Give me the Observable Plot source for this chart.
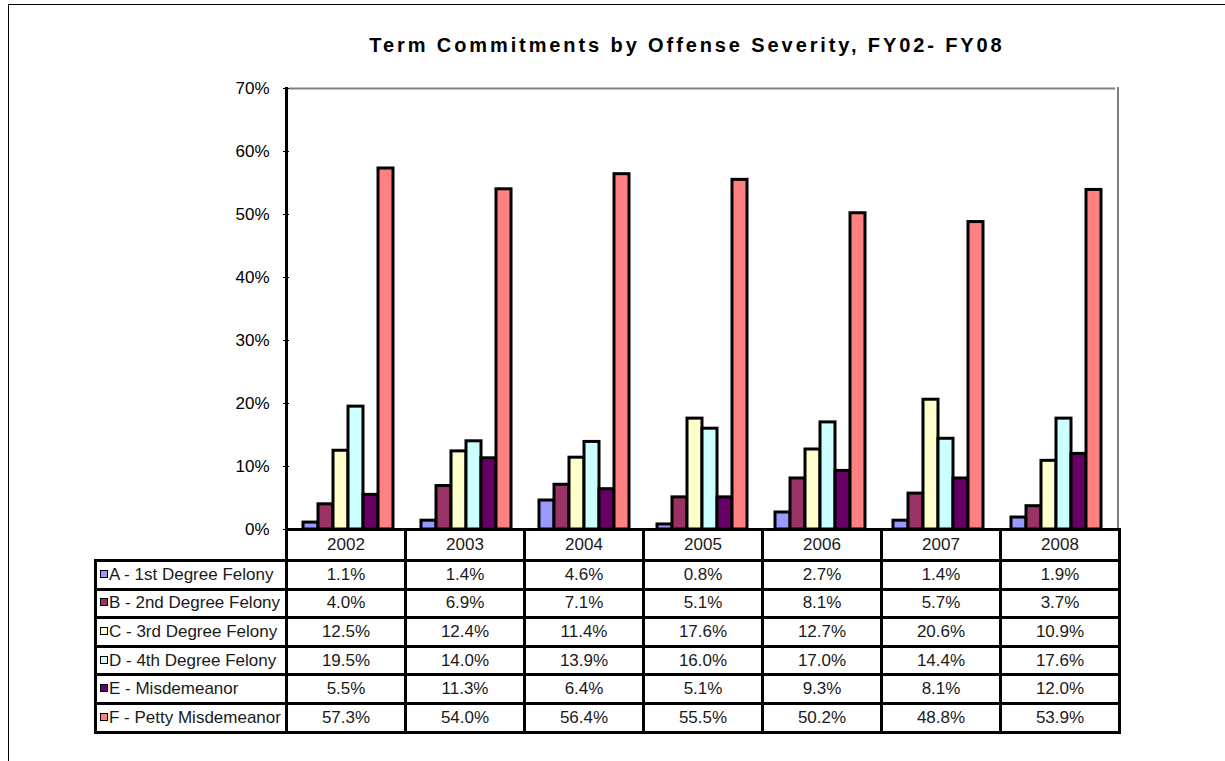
<!DOCTYPE html>
<html>
<head>
<meta charset="utf-8">
<script src="https://cdn.jsdelivr.net/npm/d3@7"></script>
<script src="https://cdn.jsdelivr.net/npm/@observablehq/plot@0.6"></script>
<style>
  html, body { margin: 0; padding: 0; background: #fff; }
  #wrap { position: relative; width: 1225px; height: 761px; overflow: hidden; font-family: "Liberation Sans", Arial, sans-serif; }
  #frame { position: absolute; left: 8px; top: 4px; right: -10px; bottom: -10px; border-left: 1px solid #000; border-top: 1px solid #000; }
  #title { position: absolute; left: 0; width: 1374px; top: 34px; text-align: center; font-weight: bold; font-size: 20px; letter-spacing: 2.9px; line-height: 22px; color: #000; }
  #chart { position: absolute; left: 0; top: 0; }
  .ov { position: absolute; }
  table.dt { position: absolute; left: 94px; top: 528px; border-collapse: collapse; table-layout: fixed; font-size: 17px; color: #1a1a1a; }
  table.dt td { border: 3px solid #000; text-align: center; padding: 0; white-space: nowrap; overflow: hidden; background: #fff; }
  table.dt tr.hd td { height: 28px; }
  table.dt tr.rw td { height: 25.6px; }
  table.dt td.lab { text-align: left; padding-left: 3px; }
  table.dt td.blank { border-top: none; border-left: none; background: transparent; }
  .key { display: inline-block; width: 6px; height: 6px; border: 1.5px solid #000; margin-right: 1px; vertical-align: 2px; }
</style>
</head>
<body>
<div id="wrap">
  <div id="frame"></div>
  <div id="title"></div>
  <div id="chart"></div>
</div>
<script>
const title = "Term Commitments by Offense Severity, FY02- FY08";
const years = ["2002", "2003", "2004", "2005", "2006", "2007", "2008"];
const seriesKeys = ["A", "B", "C", "D", "E", "F"];
const seriesLabels = ["A -  1st Degree Felony", "B -  2nd Degree Felony", "C - 3rd Degree Felony", "D - 4th Degree Felony", "E - Misdemeanor", "F - Petty Misdemeanor"];
const seriesColors = ["#9999FF", "#993366", "#FFFFCC", "#CCFFFF", "#660066", "#FF8080"];
const valuesA = [1.1, 1.4, 4.6, 0.8, 2.7, 1.4, 1.9];
const valuesB = [4.0, 6.9, 7.1, 5.1, 8.1, 5.7, 3.7];
const valuesC = [12.5, 12.4, 11.4, 17.6, 12.7, 20.6, 10.9];
const valuesD = [19.5, 14.0, 13.9, 16.0, 17.0, 14.4, 17.6];
const valuesE = [5.5, 11.3, 6.4, 5.1, 9.3, 8.1, 12.0];
const valuesF = [57.3, 54.0, 56.4, 55.5, 50.2, 48.8, 53.9];
const yTicks = [0, 10, 20, 30, 40, 50, 60, 70];

const allValues = [valuesA, valuesB, valuesC, valuesD, valuesE, valuesF];
const data = [];
seriesKeys.forEach((s, i) => years.forEach((y, j) => data.push({series: s, year: y, value: allValues[i][j]})));

document.getElementById("title").textContent = title;

const W = 1225, H = 545;
const mL = 286, mR = 107, mT = 88, mB = 16;
const chart = Plot.plot({
  width: W, height: H,
  marginLeft: mL, marginRight: mR, marginTop: mT, marginBottom: mB,
  style: {fontFamily: "Liberation Sans, Arial, sans-serif", fontSize: "17px", color: "#000", background: "transparent", overflow: "visible"},
  fx: {domain: years, padding: 0, axis: null},
  x: {domain: seriesKeys, paddingInner: 0, paddingOuter: 0.716, axis: null},
  y: {domain: [0, 70], ticks: yTicks, tickFormat: d => d + "%", tickSize: 6, tickPadding: 14, label: null},
  color: {domain: seriesKeys, range: seriesColors},
  marks: [
    Plot.ruleY([70], {stroke: "#808080", strokeWidth: 2}),
    Plot.barY(data, {fx: "year", x: "series", y: "value", fill: "series", stroke: "#000", strokeWidth: 3})
  ]
});
document.getElementById("chart").appendChild(chart);

// decorative frame lines of the plot area
const wrap = document.getElementById("wrap");
const y0 = H - mB;
function ov(l, t, w, h, c) {
  const d = document.createElement("div");
  d.className = "ov";
  Object.assign(d.style, {left: l + "px", top: t + "px", width: w + "px", height: h + "px", background: c});
  wrap.appendChild(d);
}
ov(W - mR - 1, mT - 1, 2, y0 - mT + 1, "#808080");
ov(mL - 1, mT - 1, 3, y0 - mT + 2, "#000");

// data table
const table = document.createElement("table");
table.className = "dt";
const cg = document.createElement("colgroup");
[191, ...years.map(() => 119)].forEach(w => { const c = document.createElement("col"); c.style.width = w + "px"; cg.appendChild(c); });
table.appendChild(cg);
const hr = document.createElement("tr"); hr.className = "hd";
const blank = document.createElement("td"); blank.className = "blank"; hr.appendChild(blank);
years.forEach(y => { const td = document.createElement("td"); td.textContent = y; hr.appendChild(td); });
table.appendChild(hr);
seriesKeys.forEach((s, i) => {
  const tr = document.createElement("tr"); tr.className = "rw";
  const lab = document.createElement("td"); lab.className = "lab";
  const key = document.createElement("span"); key.className = "key"; key.style.background = seriesColors[i];
  lab.appendChild(key);
  lab.appendChild(document.createTextNode(seriesLabels[i]));
  tr.appendChild(lab);
  allValues[i].forEach(v => { const td = document.createElement("td"); td.textContent = v.toFixed(1) + "%"; tr.appendChild(td); });
  table.appendChild(tr);
});
wrap.appendChild(table);
</script>
</body>
</html>
